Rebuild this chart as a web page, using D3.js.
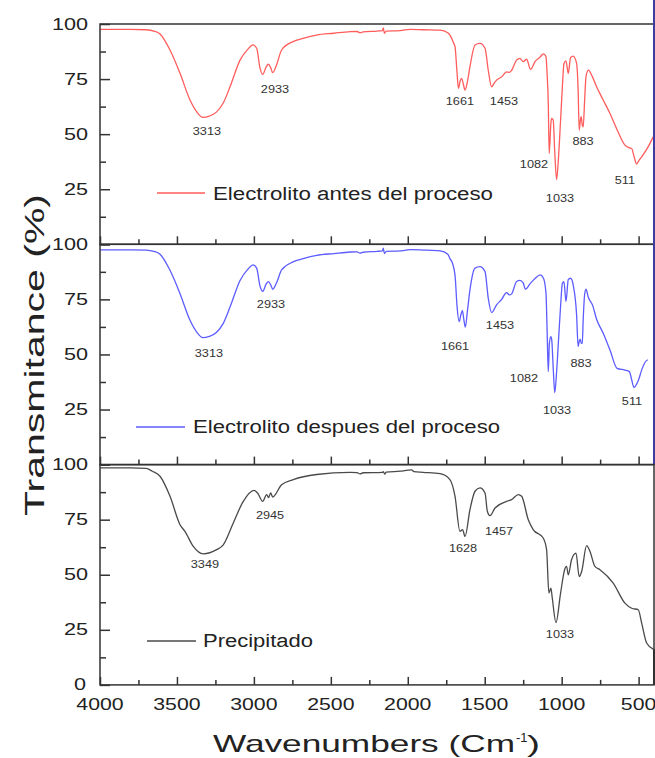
<!DOCTYPE html>
<html>
<head>
<meta charset="utf-8">
<script src="https://cdn.jsdelivr.net/npm/d3@7"></script>
<style>
  body { margin: 0; background: #fff; }
  text { font-family: "Liberation Sans", Arial, sans-serif; fill: #222; }
</style>
</head>
<body>
<svg id="chart"></svg>
<script>
// FTIR spectra (wavenumber in cm-1, transmittance in %)
const wnAntes = [4000,3800,3700,3650,3610,3545,3480,3415,3370,3331,3290,3242,3200,3155,3090,3040,3005,2982,2960,2943,2920,2906,2890,2878,2850,2820,2746,2680,2592,2480,2375,2330,2310,2290,2200,2165,2159,2152,2140,2050,1985,1900,1790,1740,1726,1700,1693,1680,1671,1660,1650,1640,1628,1612,1596,1563,1531,1498,1477,1455,1440,1423,1390,1358,1340,1325,1293,1271,1250,1228,1202,1173,1140,1119,1102,1095,1087,1081,1070,1065,1055,1045,1033,1020,1007,995,985,972,957,942,925,903,893,886,879,873,866,860,851,842,827,800,773,730,686,640,589,560,545,530,513,500,480,440,405];
const tAntes = [97.6,97.6,97.4,96.8,95.5,88.2,77.6,65.5,60.0,57.6,58.2,60.1,64.0,71.5,83.6,88.5,90.5,89.0,80.0,77.1,80.5,81.8,80.0,77.9,82.0,88.2,92.0,93.5,95.0,95.8,96.5,96.6,96.0,96.4,96.8,97.0,98.2,95.8,96.8,97.0,97.6,97.4,97.2,96.0,95.0,91.0,89.7,78.0,70.8,74.0,75.3,73.0,70.0,74.0,80.6,90.5,91.2,89.0,79.0,71.5,73.0,74.5,76.0,78.3,78.0,79.0,83.6,84.4,82.9,84.0,79.4,82.9,85.0,86.4,85.2,78.0,64.0,41.2,55.0,57.1,56.4,42.0,29.4,40.0,56.4,72.0,82.1,83.3,77.6,84.8,85.4,82.1,70.0,51.8,56.0,57.9,54.0,53.3,65.0,76.0,79.1,76.0,71.5,65.5,59.4,52.0,45.0,43.8,43.5,40.0,36.4,37.8,39.7,44.0,48.8];

const wnDespues = [4000,3800,3700,3650,3610,3545,3480,3415,3370,3331,3290,3242,3200,3155,3090,3040,3005,2982,2960,2943,2920,2906,2890,2878,2850,2820,2746,2680,2592,2480,2375,2330,2310,2290,2200,2165,2159,2152,2140,2050,1985,1900,1790,1740,1726,1710,1693,1680,1666,1655,1645,1636,1626,1612,1596,1563,1531,1498,1477,1455,1423,1390,1358,1340,1325,1293,1271,1250,1236,1202,1173,1140,1119,1102,1095,1087,1080,1070,1065,1055,1045,1033,1020,1007,995,985,972,957,942,925,903,893,886,879,873,866,860,851,842,827,800,773,730,686,640,589,560,545,530,513,500,480,440,405];
const tDespues = [97.5,97.5,97.4,96.8,95.5,88.2,77.6,65.5,60.0,57.6,58.2,60.1,64.0,71.5,83.6,88.6,90.7,89.2,81.0,78.6,82.0,83.1,81.5,79.6,83.0,88.4,92.0,93.5,95.0,95.8,96.5,96.6,96.0,96.4,96.8,97.0,98.2,95.8,96.8,97.0,97.6,97.4,97.0,95.5,93.5,91.5,86.0,72.0,64.9,68.0,69.9,66.0,62.4,70.0,79.3,89.2,89.9,87.6,75.5,69.0,72.5,75.0,78.1,77.0,77.5,83.1,83.6,82.5,79.6,82.4,84.5,86.1,84.7,78.0,62.0,42.2,55.0,58.1,57.0,44.0,32.6,42.0,57.0,72.0,82.4,83.0,74.0,84.0,84.6,81.5,68.0,53.6,56.0,57.0,55.0,55.0,66.0,77.0,79.6,76.0,72.5,66.0,59.6,52.0,43.7,42.9,42.2,38.5,35.0,36.5,38.5,43.0,47.5];

const wnPrecip = [4000,3800,3700,3660,3610,3545,3480,3448,3394,3329,3242,3199,3134,3069,3000,2975,2943,2917,2905,2891,2878,2820,2744,2592,2375,2330,2310,2290,2165,2159,2150,2140,2050,1975,1960,1900,1790,1726,1693,1661,1644,1628,1596,1563,1531,1498,1483,1466,1433,1358,1325,1282,1260,1217,1185,1120,1098,1083,1070,1062,1037,1007,978,968,957,936,907,886,870,838,816,784,751,665,589,545,502,480,448,405];
const tPrecip = [98.5,98.5,98.3,97.0,94.7,85.6,72.7,69.7,62.9,59.5,61.4,63.6,73.5,83.3,88.3,87.0,83.3,86.4,85.0,87.1,85.3,90.9,93.2,95.5,96.5,96.4,95.8,96.3,96.5,96.8,95.7,96.6,97.0,97.6,96.8,96.5,95.9,93.2,85.6,69.7,70.5,67.4,79.5,87.9,89.4,87.1,78.8,76.8,80.3,83.3,84.1,86.4,85.6,75.0,70.5,66.7,61.4,41.7,43.9,40.0,28.3,41.7,53.0,53.8,50.0,56.8,59.8,49.2,51.5,63.2,60.6,53.8,52.3,46.2,37.1,34.8,34.1,28.0,19.0,16.2];

// peak labels: text, label centre wavenumber, label baseline transmittance
const peaksAntes = [["3313",3305,49.5],["2933",2863,68.6],["1661",1661,63.2],["1453",1375,63.2],["1082",1180,34.5],["1033",1011,19.1],["883",861,45.0],["511",589,27.3]];
const peaksDespues = [["3313",3292,48.8],["2933",2889,71.0],["1661",1693,52.0],["1453",1401,61.5],["1082",1245,37.4],["1033",1030,22.9],["883",874,44.2],["511",543,27.0]];
const peaksPrecip = [["3349",3318,53.0],["2945",2895,75.3],["1628",1641,60.3],["1457",1407,68.0],["1033",1011,21.3]];

const legendNames = ["Electrolito antes del proceso", "Electrolito despues del proceso", "Precipitado"];
const lineColors = ["#ff5c5c", "#5c5cff", "#4a4a4a"];
const yTicks = [25, 50, 75, 100];
const xTicks = [4000, 3500, 3000, 2500, 2000, 1500, 1000, 500];

const width = 655, height = 758;
const left = 100, right = 654, top0 = 24, panelH = 220.3;

const svg = d3.select("#chart").attr("width", width).attr("height", height);

const x = d3.scaleLinear().domain([4000, 400]).range([left, right]);

// stretch text horizontally like the original (wide glyphs)
function widen(sel, k) {
    sel.each(function() {
        const w = this.getComputedTextLength();
        d3.select(this).attr("textLength", w * k).attr("lengthAdjust", "spacingAndGlyphs");
    });
}

const panels = [
    { wn: wnAntes, t: tAntes, peaks: peaksAntes, legend: [157, 205, 193, 213, 200, 280] },
    { wn: wnDespues, t: tDespues, peaks: peaksDespues, legend: [136, 185, 427, 193, 433, 307] },
    { wn: wnPrecip, t: tPrecip, peaks: peaksPrecip, legend: [147, 196, 641, 203, 647, 110] }
];

panels.forEach((p, i) => {
    const top = top0 + i * panelH;
    const bottom = top + panelH;
    const y = d3.scaleLinear().domain([0, 100]).range([bottom, top]);
    const g = svg.append("g");
    const color = lineColors[i];

    // curve
    const pts = p.wn.map((w, j) => [w, p.t[j]]);
    const line = d3.line().x(d => x(d[0])).y(d => y(d[1])).curve(d3.curveMonotoneX);
    g.append("path")
        .datum(pts)
        .attr("d", line)
        .attr("fill", "none")
        .attr("stroke", color)
        .attr("stroke-width", 1.3);

    // frame
    g.append("rect")
        .attr("x", left).attr("y", top)
        .attr("width", right - left).attr("height", panelH)
        .attr("fill", "none").attr("stroke", "#333").attr("stroke-width", 1.5);

    // right edge continues in series colour below the last point
    const last = pts[pts.length - 1];
    g.append("line")
        .attr("x1", right).attr("x2", right)
        .attr("y1", y(last[1])).attr("y2", bottom)
        .attr("stroke", d3.color(color).darker(1.2)).attr("stroke-width", 2);

    // left axis ticks (inward)
    g.append("g").attr("transform", `translate(${left},0)`)
        .call(d3.axisLeft(y).tickValues(d3.range(0, 101, 25)).tickSize(-10).tickSizeOuter(0).tickFormat(""))
        .call(a => a.select(".domain").remove())
        .call(a => a.selectAll("line").attr("stroke", "#333").attr("stroke-width", 1.5));
    g.append("g").attr("transform", `translate(${left},0)`)
        .call(d3.axisLeft(y).tickValues([12.5, 37.5, 62.5, 87.5]).tickSize(-6).tickSizeOuter(0).tickFormat(""))
        .call(a => a.select(".domain").remove())
        .call(a => a.selectAll("line").attr("stroke", "#333").attr("stroke-width", 1.5));

    // bottom axis ticks (inward)
    g.append("g").attr("transform", `translate(0,${bottom})`)
        .call(d3.axisBottom(x).tickValues(xTicks).tickSize(-8).tickSizeOuter(0).tickFormat(""))
        .call(a => a.select(".domain").remove())
        .call(a => a.selectAll("line").attr("stroke", "#333").attr("stroke-width", 1.5));
    g.append("g").attr("transform", `translate(0,${bottom})`)
        .call(d3.axisBottom(x).tickValues(d3.range(3750, 400, -500)).tickSize(-5).tickSizeOuter(0).tickFormat(""))
        .call(a => a.select(".domain").remove())
        .call(a => a.selectAll("line").attr("stroke", "#333").attr("stroke-width", 1.5));

    // y labels
    const yl = i === 2 ? [0].concat(yTicks) : yTicks;
    g.selectAll("text.ylab").data(yl).enter().append("text")
        .attr("class", "ylab")
        .attr("x", d => d === 0 ? left - 14 : left - 12)
        .attr("y", d => y(d) + 5.5)
        .attr("text-anchor", "end")
        .attr("font-size", 16)
        .text(d => d)
        .call(widen, 1.35);

    // peak labels
    g.selectAll("text.peak").data(p.peaks).enter().append("text")
        .attr("class", "peak")
        .attr("x", d => x(d[1]))
        .attr("y", d => y(d[2]))
        .attr("text-anchor", "middle")
        .attr("font-size", 10)
        .style("fill", "#333")
        .text(d => d[0])
        .call(widen, 1.27);

    // legend
    const L = p.legend;
    g.append("line")
        .attr("x1", L[0]).attr("x2", L[1]).attr("y1", L[2]).attr("y2", L[2])
        .attr("stroke", color).attr("stroke-width", 1.3);
    g.append("text")
        .attr("x", L[3]).attr("y", L[4])
        .attr("font-size", 18)
        .attr("textLength", L[5]).attr("lengthAdjust", "spacingAndGlyphs")
        .text(legendNames[i]);
});

// x labels
const xBottom = top0 + 3 * panelH;
svg.selectAll("text.xlab").data(xTicks).enter().append("text")
    .attr("class", "xlab")
    .attr("x", d => x(d))
    .attr("y", xBottom + 25)
    .attr("text-anchor", "middle")
    .attr("font-size", 17)
    .text(d => d)
    .call(widen, 1.25);

// axis titles
svg.append("text")
    .attr("transform", "translate(44,355) rotate(-90)")
    .attr("text-anchor", "middle")
    .attr("font-size", 27)
    .attr("textLength", 322).attr("lengthAdjust", "spacingAndGlyphs")
    .text("Transmitance (%)");

svg.append("text")
    .attr("x", 213).attr("y", 752)
    .attr("font-size", 24)
    .attr("textLength", 302).attr("lengthAdjust", "spacingAndGlyphs")
    .text("Wavenumbers (Cm");
svg.append("text")
    .attr("x", 516).attr("y", 742)
    .attr("font-size", 13)
    .text("-1");
svg.append("text")
    .attr("x", 527).attr("y", 752)
    .attr("font-size", 24)
    .attr("textLength", 13).attr("lengthAdjust", "spacingAndGlyphs")
    .text(")");
</script>
</body>
</html>
